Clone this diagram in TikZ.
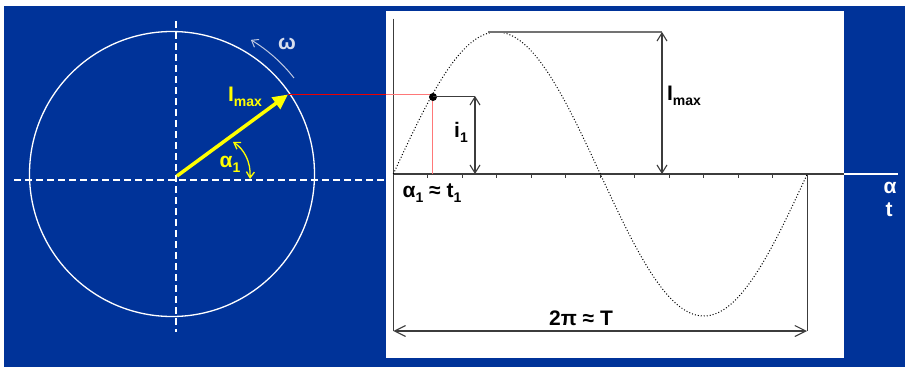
\documentclass[tikz,border=0pt]{standalone}
\usepackage{fontspec}
\setmainfont{Liberation Sans}
\usetikzlibrary{arrows.meta}
\definecolor{bgblue}{RGB}{0,51,153}
\definecolor{ylw}{RGB}{255,255,0}
\definecolor{redline}{RGB}{235,0,0}
\definecolor{pinkline}{RGB}{255,120,120}
\definecolor{axisgray}{RGB}{60,60,60}
\definecolor{lightgray}{RGB}{115,115,115}
\definecolor{omegagray}{RGB}{190,200,225}
\newcommand{\lowsub}[1]{\raisebox{-5pt}{\fontsize{14}{14}\selectfont #1}}
\begin{document}
\begin{tikzpicture}[x=1pt,y=-1pt,
  lbl/.style={font=\bfseries\fontsize{21}{24}\selectfont, inner sep=0pt},
  dimarrow/.style={draw=axisgray, line width=1.1pt, {Straight Barb[length=8pt,width=10pt]}-{Straight Barb[length=8pt,width=10pt]}},
  longdim/.style={draw=axisgray, line width=1.1pt, {Straight Barb[length=11pt,width=11pt]}-{Straight Barb[length=11pt,width=11pt]}},
  wdash/.style={draw=white, line width=1.5pt, dash pattern=on 7pt off 4pt},
  axisline/.style={draw=axisgray, line width=1.2pt},
  dotnode/.style={circle, fill=black, minimum size=8pt, inner sep=0pt},
]
\useasboundingbox (0,0) rectangle (905,367);
% backgrounds
\fill[white] (0,0) rectangle (905,367);
\fill[bgblue] (4,6) rectangle (905,367);
\fill[white] (386,11) rectangle (844,358);

% circle and dashed axes
\draw[white, line width=1.3pt] (172,174) circle[radius=142.5];
\coordinate (hL) at (14,180);
\coordinate (hR) at (386,180);
\coordinate (vT) at (176,21);
\coordinate (vB) at (176,332);
\draw[wdash] (hL) -- (hR);
\draw[wdash] (vT) -- (vB);

% omega arc
\draw[omegagray, line width=1pt, -{Straight Barb[length=6pt,width=9pt]}] (294,78) arc[start angle=-38, end angle=-59, radius=158];
\node[lbl, text=omegagray!60!white] (om) at (287,44) {ω};

% phasor
\coordinate (O) at (177,176);
\coordinate (P) at (288,94.5);
\coordinate (panelL) at (386,94.5);
\draw[redline, line width=1.3pt] (P) -- (panelL);
\draw[ylw, line width=3.5pt, -{Triangle[length=15pt,width=14pt]}] (O) -- (P);
\node[lbl, text=ylw] (imaxY) at (245,97) {I\lowsub{max}};

% alpha arc
\draw[ylw, line width=1.3pt, {Straight Barb[length=6pt,width=8pt]}-{Straight Barb[length=6pt,width=8pt]}] (233,142) .. controls (244,149) and (251,162) .. (250,179);
\node[lbl, text=ylw] (a1Y) at (230,164) {α\lowsub{1}};

% graph axes
\coordinate (org) at (393.3,174);
\coordinate (yTop) at (393.3,18.5);
\coordinate (yBot) at (393.3,331);
\coordinate (xEnd) at (844,174);
\coordinate (xOut) at (898,174);
\draw[axisline] (yTop) -- (yBot);
\draw[axisline] (org) -- (xEnd);
\draw[white, line width=1.6pt] (xEnd) -- (xOut);
\foreach \k in {1,...,12} \draw[axisgray, line width=0.9pt] ({393.3+34.5*\k},174) -- ++(0,3.5);

% sine curve
\draw[black, line width=1pt, dash pattern=on 1pt off 2pt] plot[domain=0:360, samples=180, smooth] ({393.3+\x*1.15},{174-142*sin(\x)});

% pink projection and point
\coordinate (dotL) at (431,94.5);
\coordinate (pinkTop) at (432.5,98);
\coordinate (pinkBot) at (432.5,174);
\draw[pinkline, line width=1.5pt] (panelL) -- (dotL);
\draw[pinkline, line width=1.5pt] (pinkTop) -- (pinkBot);
\coordinate (i1top) at (475,96);
\coordinate (i1bot) at (475,174);
\node[dotnode] (D) at (433,97) {};
\draw[axisgray, line width=1pt] (D.center |- i1top) -- (i1top);
\draw[dimarrow] (i1top) -- (i1bot);
\node[lbl] (i1) at (461,132) {i\lowsub{1}};

% Imax dimension
\coordinate (pk) at (488,32);
\coordinate (imT) at (662,32);
\coordinate (imB) at (662,174);
\draw[lightgray, line width=1.2pt] (pk) -- (imT);
\draw[dimarrow] (imT) -- (imB);
\node[lbl] (imaxG) at (684,96) {I\lowsub{max}};

% period dimension
\coordinate (perT) at (807,174);
\coordinate (perR) at (807,331);
\draw[axisgray, line width=1pt] (perT) -- (perR);
\draw[longdim] (yBot) -- (perR);
\node[lbl] (per) at (581,318) {2π ≈ T};

\node[lbl] (at1) at (432,193) {α\lowsub{1} ≈ t\lowsub{1}};

% axis labels
\node[lbl, text=white] (alph) at (890,188) {α};
\node[lbl, text=white] (tt) at (889,210) {t};
\end{tikzpicture}
\end{document}
